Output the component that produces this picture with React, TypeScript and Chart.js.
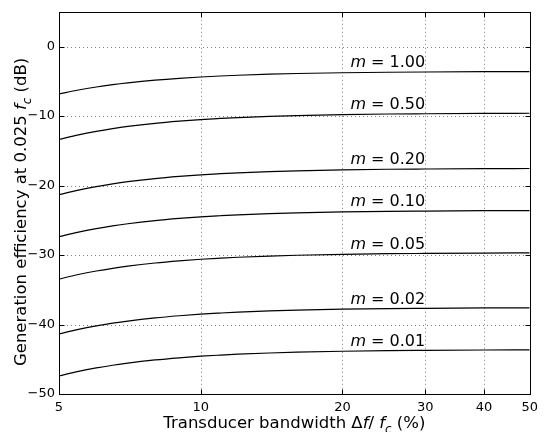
import React, { useEffect, useRef } from 'react';
import { Chart, registerables } from 'chart.js';

Chart.register(...registerables);

// Transducer bandwidth Δf/fc (%)
const bandwidth = [5, 5.5, 6, 6.5, 7, 8, 9, 10, 11, 12, 14, 16, 20, 25, 30, 40, 50];

// Generation efficiency (dB) for each modulation index m
const eff_m100 = [-6.82, -6.25, -5.82, -5.49, -5.23, -4.84, -4.57, -4.38, -4.24, -4.13, -3.98, -3.88, -3.77, -3.70, -3.66, -3.62, -3.60];
const eff_m050 = [-13.36, -12.70, -12.20, -11.81, -11.50, -11.05, -10.74, -10.51, -10.35, -10.22, -10.05, -9.93, -9.80, -9.71, -9.67, -9.62, -9.60];
const eff_m020 = [-21.31, -20.65, -20.15, -19.76, -19.45, -19.00, -18.69, -18.46, -18.30, -18.17, -18.00, -17.88, -17.75, -17.66, -17.62, -17.57, -17.55];
const eff_m010 = [-27.36, -26.70, -26.20, -25.81, -25.50, -25.05, -24.74, -24.51, -24.35, -24.22, -24.05, -23.93, -23.80, -23.71, -23.67, -23.62, -23.60];
const eff_m005 = [-33.46, -32.80, -32.30, -31.91, -31.60, -31.15, -30.84, -30.61, -30.45, -30.32, -30.15, -30.03, -29.90, -29.81, -29.77, -29.72, -29.70];
const eff_m002 = [-41.36, -40.70, -40.20, -39.81, -39.50, -39.05, -38.74, -38.51, -38.35, -38.22, -38.05, -37.93, -37.80, -37.71, -37.67, -37.62, -37.60];
const eff_m001 = [-47.41, -46.75, -46.25, -45.86, -45.55, -45.10, -44.79, -44.56, -44.40, -44.27, -44.10, -43.98, -43.85, -43.76, -43.72, -43.67, -43.65];

const mLabels = ['1.00', '0.50', '0.20', '0.10', '0.05', '0.02', '0.01'];
const seriesList = [eff_m100, eff_m050, eff_m020, eff_m010, eff_m005, eff_m002, eff_m001];

const xTicks = [5, 10, 20, 30, 40, 50];
const yTicks = [-50, -40, -30, -20, -10, 0];
const labelAtX = 20.8;

const FONT = '"DejaVu Sans", "Liberation Sans", Arial, sans-serif';

type Seg = { t: string; it?: boolean; sub?: boolean };

function segFont(s: Seg, size: number) {
  return `${s.it ? 'italic ' : ''}${s.sub ? (size * 0.72).toFixed(2) : size}px ${FONT}`;
}

function drawRich(ctx: CanvasRenderingContext2D, segs: Seg[], x: number, y: number, size: number, align: 'left' | 'center') {
  let w = 0;
  for (const s of segs) {
    ctx.font = segFont(s, size);
    w += ctx.measureText(s.t).width;
  }
  let cx = align === 'center' ? x - w / 2 : x;
  ctx.textAlign = 'left';
  ctx.textBaseline = 'alphabetic';
  for (const s of segs) {
    ctx.font = segFont(s, size);
    ctx.fillText(s.t, cx, y + (s.sub ? size * 0.3 : 0));
    cx += ctx.measureText(s.t).width;
  }
}

const framePlugin = {
  id: 'matlabFrame',
  beforeDatasetsDraw(chart: any) {
    const { ctx, chartArea: a, scales } = chart;
    const xs = scales.x, ys = scales.y;
    ctx.save();
    ctx.strokeStyle = 'rgba(0,0,0,0.5)';
    ctx.lineWidth = 1;
    ctx.setLineDash([1, 3]);
    for (const v of xTicks) {
      const px = Math.round(xs.getPixelForValue(v)) + 0.5;
      if (px <= a.left + 1 || px >= a.right - 1) continue;
      ctx.beginPath();
      ctx.moveTo(px, a.top);
      ctx.lineTo(px, a.bottom);
      ctx.stroke();
    }
    for (const v of yTicks) {
      const py = Math.round(ys.getPixelForValue(v)) + 0.5;
      if (py <= a.top + 1 || py >= a.bottom - 1) continue;
      ctx.beginPath();
      ctx.moveTo(a.left, py);
      ctx.lineTo(a.right, py);
      ctx.stroke();
    }
    ctx.restore();
  },
  afterDatasetsDraw(chart: any) {
    const { ctx, chartArea: a, scales } = chart;
    const xs = scales.x, ys = scales.y;
    ctx.save();
    ctx.setLineDash([]);
    ctx.strokeStyle = '#000';
    ctx.lineWidth = 1;
    const L = Math.round(a.left) + 0.5, R = Math.round(a.right) + 0.5;
    const T = Math.round(a.top) + 0.5, B = Math.round(a.bottom) + 0.5;
    ctx.strokeRect(L, T, R - L, B - T);
    const tl = 5;
    ctx.beginPath();
    for (const v of xTicks) {
      const px = Math.round(xs.getPixelForValue(v)) + 0.5;
      ctx.moveTo(px, B); ctx.lineTo(px, B - tl);
      ctx.moveTo(px, T); ctx.lineTo(px, T + tl);
    }
    for (const v of yTicks) {
      const py = Math.round(ys.getPixelForValue(v)) + 0.5;
      ctx.moveTo(L, py); ctx.lineTo(L + tl, py);
      ctx.moveTo(R, py); ctx.lineTo(R - tl, py);
    }
    ctx.stroke();

    // curve labels
    ctx.fillStyle = '#000';
    const lx = xs.getPixelForValue(labelAtX);
    seriesList.forEach((s, i) => {
      const py = ys.getPixelForValue(s[s.length - 1]) - 4.2;
      drawRich(ctx, [{ t: 'm', it: true }, { t: ' = ' + mLabels[i] }], lx, py, 16, 'left');
    });

    // axis titles
    const cx = (a.left + a.right) / 2;
    drawRich(ctx, [
      { t: 'Transducer bandwidth Δ' },
      { t: 'f', it: true },
      { t: '/ ' },
      { t: 'f', it: true },
      { t: 'c', it: true, sub: true },
      { t: ' (%)' },
    ], cx, 428, 16.5, 'center');

    ctx.save();
    ctx.translate(26, (a.top + a.bottom) / 2 + 9);
    ctx.rotate(-Math.PI / 2);
    drawRich(ctx, [
      { t: 'Generation efficiency at 0.025 ' },
      { t: 'f', it: true },
      { t: 'c', it: true, sub: true },
      { t: ' (dB)' },
    ], 0, 0, 16.5, 'center');
    ctx.restore();
    ctx.restore();
  },
};

export default function App() {
  const ref = useRef<HTMLCanvasElement | null>(null);
  useEffect(() => {
    if (!ref.current) return;
    const chart = new Chart(ref.current, {
      type: 'line',
      data: {
        labels: bandwidth,
        datasets: seriesList.map((s, i) => ({
          label: 'm = ' + mLabels[i],
          data: s.map((v, j) => ({ x: bandwidth[j], y: v })),
          borderColor: '#000',
          borderWidth: 1.2,
          pointRadius: 0,
          fill: false,
          cubicInterpolationMode: 'monotone' as const,
        })),
      },
      options: {
        responsive: false,
        animation: false,
        events: [],
        layout: { padding: { top: 11, right: 8, left: 0, bottom: 0 } },
        plugins: { legend: { display: false }, tooltip: { enabled: false }, title: { display: false } },
        scales: {
          x: {
            type: 'logarithmic',
            min: 5,
            max: 50,
            afterBuildTicks: (sc: any) => { sc.ticks = xTicks.map((v) => ({ value: v })); },
            afterFit: (sc: any) => { sc.height = 38; },
            grid: { display: false, drawTicks: false, tickLength: 0 },
            border: { display: false },
            ticks: {
              color: '#000',
              padding: 6,
              maxRotation: 0,
              autoSkip: false,
              font: { family: FONT, size: 13 },
              callback: (v: any) => String(v),
            },
          },
          y: {
            type: 'linear',
            min: -50,
            max: 5,
            afterBuildTicks: (sc: any) => { sc.ticks = yTicks.map((v) => ({ value: v })); },
            afterFit: (sc: any) => { sc.width = 59; },
            grid: { display: false, drawTicks: false, tickLength: 0 },
            border: { display: false },
            ticks: {
              color: '#000',
              padding: 4,
              autoSkip: false,
              font: { family: FONT, size: 13 },
              callback: (v: any) => (Number(v) < 0 ? '\u2212' + Math.abs(Number(v)) : String(v)),
            },
          },
        },
      },
      plugins: [framePlugin],
    });
    return () => chart.destroy();
  }, []);
  return (
    <div style={{ position: 'fixed', left: 0, top: 0, width: 544, height: 432, background: '#fff' }}>
      <canvas ref={ref} width={544} height={432} style={{ display: 'block' }} />
    </div>
  );
}
